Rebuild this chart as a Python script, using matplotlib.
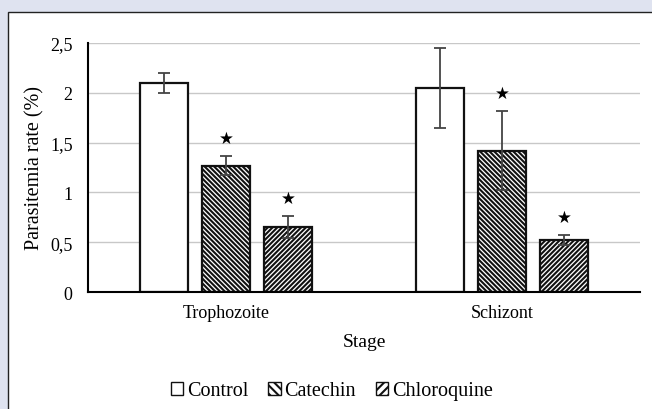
import matplotlib.pyplot as plt
from matplotlib.patches import Rectangle, Patch
import numpy as np

plt.rcParams['font.family'] = ['Liberation Serif', 'DejaVu Sans']
plt.rcParams['hatch.linewidth'] = 1.5

stages = ["Trophozoite", "Schizont"]
treatments = ["Control", "Catechin", "Chloroquine"]
control = [2.1, 2.05]
catechin = [1.27, 1.42]
chloroquine = [0.65, 0.52]
control_err = [0.1, 0.4]
catechin_err = [0.1, 0.4]
chloroquine_err = [0.11, 0.05]
# significance stars (treatment index, stage index)
stars = [(1, 0), (2, 0), (1, 1), (2, 1)]

fig = plt.figure(figsize=(6.52, 4.10), dpi=100)
fig.patch.set_facecolor("#dfe3f0")
panel = Rectangle((8 / 652, -0.05), 1.0, (410 - 13) / 410 + 0.05,
                  transform=fig.transFigure, facecolor="white",
                  edgecolor="#222222", linewidth=1.0, zorder=-10)
fig.add_artist(panel)

ax = fig.add_axes([88 / 652, (410 - 293) / 410, 552 / 652, 249 / 410])
ax.set_facecolor("none")
ax.set_zorder(5)

x = np.arange(len(stages))
width = 0.174
step = 0.225
values = [control, catechin, chloroquine]
errors = [control_err, catechin_err, chloroquine_err]
hatches = [None, "\\\\\\\\\\\\\\", "///////"]

for i, (vals, errs, h) in enumerate(zip(values, errors, hatches)):
    pos = x + (i - 1) * step
    ax.bar(pos, vals, width, color="white", edgecolor="#111111",
           linewidth=1.6, hatch=h, zorder=2)
    ax.errorbar(pos, vals, yerr=errs, fmt="none", ecolor="#444444",
                elinewidth=1.3, capsize=4, capthick=1.3, zorder=3)

for i, s in stars:
    top = values[i][s] + errors[i][s]
    ax.text(x[s] + (i - 1) * step, top + 0.09, "★", family="DejaVu Sans",
            ha="center", va="bottom", fontsize=12, color="black", zorder=4)

ax.set_xlim(-0.5, 1.5)
ax.set_ylim(0, 2.5)
ax.set_yticks([0, 0.5, 1, 1.5, 2, 2.5])
ax.set_yticklabels(["0", "0,5", "1", "1,5", "2", "2,5"], fontsize=13)
ax.set_xticks(x)
ax.set_xticklabels(stages, fontsize=13)
ax.tick_params(axis="y", length=0, pad=11)
ax.tick_params(axis="x", length=0, pad=9)
ax.yaxis.grid(True, color="#c8c8c8", linewidth=1.0, zorder=0)
ax.set_axisbelow(True)
for sp in ["top", "right"]:
    ax.spines[sp].set_visible(False)
ax.spines["left"].set_linewidth(1.5)
ax.spines["bottom"].set_linewidth(1.5)

ax.set_xlabel("Stage", fontsize=14, labelpad=8)
ax.set_ylabel("Parasitemia rate (%)", fontsize=14.5, labelpad=4)

handles = [Patch(facecolor="white", edgecolor="#111111", hatch=h, linewidth=1.0)
           for h in [None, "\\\\\\\\", "////"]]
fig.legend(handles, treatments, loc="center", bbox_to_anchor=(332 / 652, 1 - 392 / 410),
           ncol=3, frameon=False, fontsize=14.5, handlelength=0.6, handleheight=0.6,
           handletextpad=0.2, columnspacing=1.0)

fig.savefig("out.png", dpi=100, facecolor=fig.get_facecolor())
